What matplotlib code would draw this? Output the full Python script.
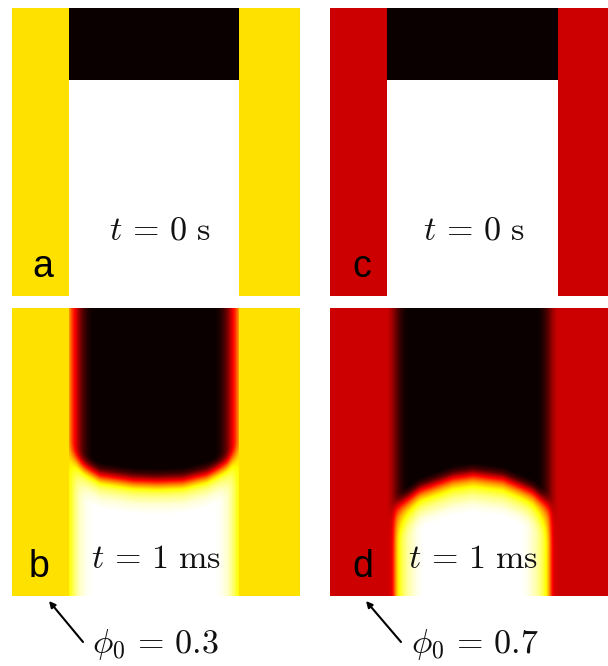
import matplotlib
matplotlib.use('Agg')
import matplotlib.pyplot as plt
import numpy as np

W, H = 608, 666

# panel size in pixels, channel walls measured from the left of a panel
panel_size = 288
wall_left = 57
wall_right = 227
wall_right_c = 228

# colormap values of the side walls
wall_phi_03 = 0.70
wall_phi_07 = 0.29

# t = 0: flat front
front_t0 = 72

# t = 1 ms: where the front sits (pixels from panel top) across the channel
front_x_b = [57, 71, 88, 121, 145, 171, 195, 215, 227]
front_y_b = [144, 157, 167, 172, 173, 172, 166, 155, 143]
front_x_d = [57, 67, 90, 123, 143, 173, 203, 220, 228]
front_y_d = [206, 198, 182, 170, 167, 171, 184, 198, 208]

# colour going through the front (offset in pixels, value 0 = above, 1 = below)
front_off = [-12, -6, 0, 5, 10, 16, 24, 34]
front_val_b = [0.0, 0.1, 0.36, 0.60, 0.78, 0.88, 0.96, 1.0]
front_off_d = [-12, -6, 0, 6, 12, 20, 30, 38]
front_val_d = [0.0, 0.1, 0.36, 0.60, 0.76, 0.88, 0.97, 1.0]

# colour going away from the wall (distance in pixels, value)
top_dist_b = [0, 3, 7, 12, 18, 24]
top_val_b = [0.62, 0.46, 0.32, 0.15, 0.04, 0.0]
bot_dist_b = [0, 4, 8, 12, 18, 26]
bot_val_b = [0.74, 0.82, 0.90, 0.95, 0.985, 1.0]
top_dist_d = [0, 4, 8, 12, 17, 21]
top_val_d = [0.29, 0.25, 0.16, 0.08, 0.02, 0.0]
bot_dist_d = [0, 5, 10, 14, 20, 30, 38]
bot_val_d = [0.29, 0.32, 0.68, 0.80, 0.90, 0.98, 1.0]

panel_letters = ['a', 'b', 'c', 'd']
time_labels = [r'$t\,=\,0\ \mathrm{s}$', r'$t\,=\,1\ \mathrm{ms}$']
phi_labels = [r'$\phi_0\,=\,0.3$', r'$\phi_0\,=\,0.7$']

plt.rcParams['mathtext.fontset'] = 'cm'


def soften(f):
    # the reference is a bit blurred, take the kinks out of the field
    k = np.array([1, 2, 3, 2, 1]) / 9
    g = np.pad(f, 2, mode='edge')
    g = np.apply_along_axis(lambda r: np.convolve(r, k, mode='same'), 0, g)
    g = np.apply_along_axis(lambda r: np.convolve(r, k, mode='same'), 1, g)
    return g[2:-2, 2:-2]


def start_field(wall, right):
    f = np.ones((panel_size, panel_size))
    f[:front_t0, :] = 0
    f[:, :wall_left] = wall
    f[:, right:] = wall
    return f


def moved_field(wall, right, fx, fy, foff, fval, td, tv, bd, bv):
    xs = np.arange(panel_size) + 0.5
    ys = np.arange(panel_size) + 0.5
    xx, yy = np.meshgrid(xs, ys)
    dist = np.minimum(xx - wall_left, right - xx)
    top = np.interp(dist, td, tv)
    bot = np.interp(dist, bd, bv)
    w = np.interp(yy - np.interp(xx, fx, fy), foff, fval)
    f = soften(top * (1 - w) + bot * w)
    f[:, :wall_left] = wall
    f[:, right:] = wall
    return f


fields = [
    start_field(wall_phi_03, wall_right),
    moved_field(wall_phi_03, wall_right, front_x_b, front_y_b, front_off, front_val_b,
                top_dist_b, top_val_b, bot_dist_b, bot_val_b),
    start_field(wall_phi_07, wall_right_c),
    moved_field(wall_phi_07, wall_right_c, front_x_d, front_y_d, front_off_d, front_val_d,
                top_dist_d, top_val_d, bot_dist_d, bot_val_d),
]

# left, top of each panel in figure pixels
panel_pos = [(12, 8), (12, 308), (330, 8), (330, 308)]

fig = plt.figure(figsize=(W / 100, H / 100), dpi=100)

for (px, py), f in zip(panel_pos, fields):
    w = min(panel_size, W - px)
    ax = fig.add_axes([px / W, 1 - (py + panel_size) / H, w / W, panel_size / H])
    ax.imshow(f, cmap='hot', vmin=0, vmax=1, interpolation='bilinear',
              extent=[0, panel_size, panel_size, 0], aspect='auto')
    ax.set_xlim(0, w)
    ax.set_ylim(panel_size, 0)
    ax.axis('off')

# overlay in pixel coordinates for the texts and arrows
ov = fig.add_axes([0, 0, 1, 1])
ov.set_xlim(0, W)
ov.set_ylim(H, 0)
ov.axis('off')
ov.patch.set_alpha(0)

letter_x = [43, 39, 362, 363]
letter_y = [277, 577, 277, 577]
for s, x, y in zip(panel_letters, letter_x, letter_y):
    ov.text(x, y, s, fontsize=27, family='Liberation Sans', color='black',
            ha='center', va='baseline')

text_size = 24.5
ov.text(160, 240, time_labels[0], fontsize=text_size, ha='center', va='baseline', color='#111111')
ov.text(474, 240, time_labels[0], fontsize=text_size, ha='center', va='baseline', color='#111111')
ov.text(156, 568, time_labels[1], fontsize=text_size, ha='center', va='baseline', color='#111111')
ov.text(473, 568, time_labels[1], fontsize=text_size, ha='center', va='baseline', color='#111111')

ov.text(155, 653, phi_labels[0], fontsize=text_size, ha='center', va='baseline', color='#111111')
ov.text(475, 653, phi_labels[1], fontsize=text_size, ha='center', va='baseline', color='#111111')

arrow_style = dict(arrowstyle='-|>', color='black', lw=1.5, mutation_scale=9,
                   shrinkA=0, shrinkB=0)
ov.annotate('', xy=(49, 601), xytext=(83, 642), arrowprops=arrow_style)
ov.annotate('', xy=(366, 601), xytext=(401, 642), arrowprops=arrow_style)

fig.savefig('out.png', dpi=100)
